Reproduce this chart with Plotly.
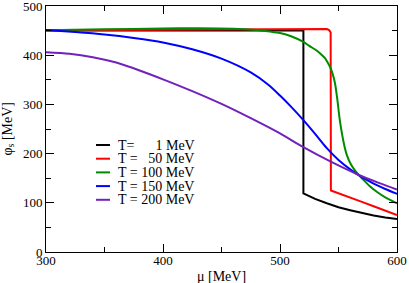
import plotly.graph_objects as go

# ---- data ----
mu_T1 = [300, 350, 400, 450, 500, 520, 520, 530, 540, 550, 560, 570, 580, 590, 600]
phi_T1 = [450, 450, 450, 450, 450, 450, 119, 108, 99, 91, 85, 79, 74, 70, 67]

mu_T50 = [300, 400, 500, 535, 540, 542, 543.3, 543.5, 550, 560, 570, 580, 590, 600]
phi_T50 = [450.5, 451, 452, 453, 453, 451, 446, 125, 119, 111, 102, 93, 84, 75]

mu_T100 = [300, 350, 400, 430, 460, 480, 491.5, 500, 510, 520, 525, 531, 535, 538.5,
           540, 543, 545, 547, 549, 551, 553, 555, 557, 560, 564, 568, 572, 577, 583, 590, 600]
phi_T100 = [450.5, 452.5, 454.5, 455, 454, 451, 448, 445, 438, 427, 419, 410, 402, 394,
            388, 375, 362, 343, 310, 270, 240, 216, 198, 181, 166, 155, 145, 133, 122, 111, 99]

mu_T150 = [300, 325, 350, 375, 400, 425, 450, 475, 490, 500, 510, 520, 530, 540,
           550, 560, 570, 580, 590, 600]
phi_T150 = [451, 447, 442, 435, 426, 412, 393, 365, 340, 318, 294, 268, 240, 211,
            187, 168, 152, 139, 128, 118]

mu_T200 = [300, 320, 340, 360, 380, 400, 425, 450, 475, 500, 520, 543, 567, 585, 600]
phi_T200 = [406, 403, 396, 385, 369, 351, 327, 301, 272, 241, 213, 184, 157, 140, 127]

labels = ["T=\u00a0\u00a0\u2007\u20071 MeV", "T = \u200750 MeV", "T = 100 MeV",
          "T = 150 MeV", "T = 200 MeV"]
colors = ["#000000", "#ff0000", "#008c00", "#0000ff", "#7221bc"]
shapes_kind = ["linear", "linear", "spline", "spline", "spline"]

series = [(mu_T1, phi_T1), (mu_T50, phi_T50), (mu_T100, phi_T100),
          (mu_T150, phi_T150), (mu_T200, phi_T200)]

FONT = "Liberation Serif"

fig = go.Figure()
for (x, y), name, c, k in zip(series, labels, colors, shapes_kind):
    line = dict(color=c, width=2, shape=k)
    if k == "spline":
        line["smoothing"] = 0.8
    fig.add_trace(go.Scatter(x=x, y=y, mode="lines", name=name,
                             line=line, showlegend=False))

# manual legend (short line samples like the original)
L = 46
W = 351
B = 252
H = 246
row_px = [145, 158.7, 172.4, 186.1, 199.8]
shapes = []
annotations = []
for yp, name, c in zip(row_px, labels, colors):
    yy = (B - yp) / H
    shapes.append(dict(type="line", xref="paper", yref="paper",
                       x0=(96 - L) / W, x1=(110 - L) / W, y0=yy, y1=yy,
                       line=dict(color=c, width=2)))
    annotations.append(dict(xref="paper", yref="paper", x=(116 - L) / W, y=yy,
                            text=name, showarrow=False, xanchor="left",
                            yanchor="middle", font=dict(family=FONT, size=14, color="black")))

# axis titles
annotations.append(dict(xref="paper", yref="paper", x=0.5, y=0, yshift=-15,
                        text="\u03bc [MeV]", showarrow=False, xanchor="center",
                        yanchor="top", font=dict(family=FONT, size=14, color="black")))
annotations.append(dict(xref="paper", yref="paper", x=0, y=0.5, xshift=-28,
                        text="\u03c6<sub>s</sub> [MeV]", showarrow=False, textangle=-90,
                        xanchor="right", yanchor="middle",
                        font=dict(family=FONT, size=14, color="black")))

axis_common = dict(showline=True, linecolor="black", linewidth=1, mirror="allticks",
                   ticks="inside", ticklen=8, tickwidth=1, tickcolor="black",
                   showgrid=False, zeroline=False, ticklabeloverflow="allow",
                   automargin=False,
                   tickfont=dict(family=FONT, size=13, color="black"))

fig.update_layout(
    width=409, height=283,
    margin=dict(l=46, r=12, t=6, b=31),
    paper_bgcolor="white", plot_bgcolor="white",
    shapes=shapes, annotations=annotations,
    xaxis=dict(range=[300, 600], dtick=100, tick0=300, ticklabelstandoff=-4,
               minor=dict(dtick=50, ticks="inside", ticklen=5, tickcolor="black"),
               **axis_common),
    yaxis=dict(range=[0, 500], dtick=100, tick0=0,
               minor=dict(dtick=50, ticks="inside", ticklen=5, tickcolor="black"),
               **axis_common),
)

fig.write_html("out.html", config={"displayModeBar": False},
               post_script="document.body.style.margin='0';document.body.style.overflow='hidden';")
